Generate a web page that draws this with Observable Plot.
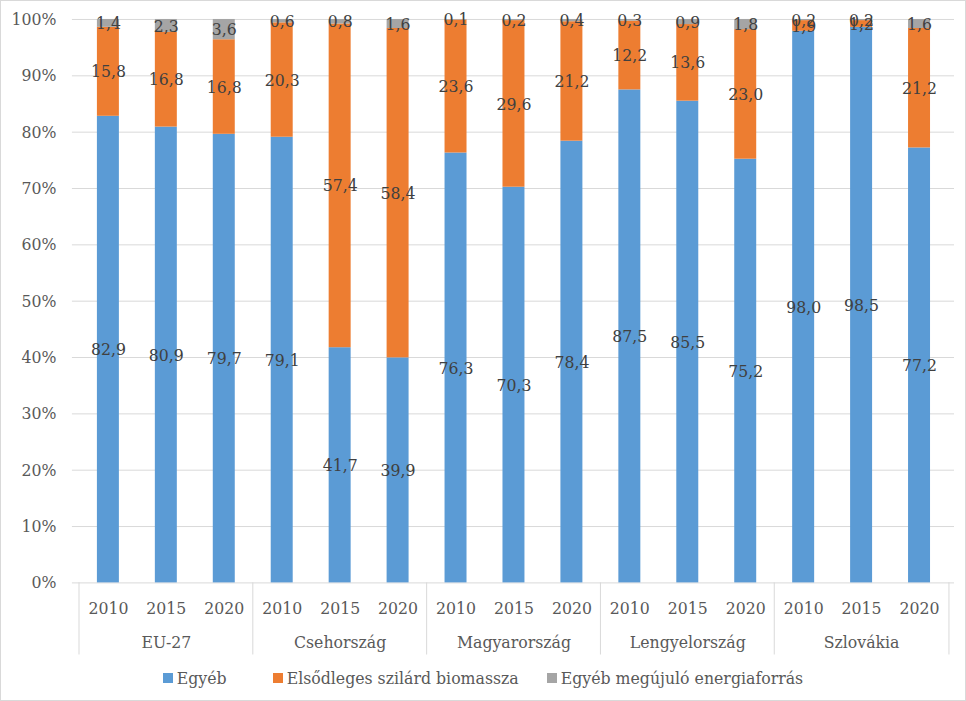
<!DOCTYPE html>
<html>
<head>
<meta charset="utf-8">
<script src="https://cdn.jsdelivr.net/npm/d3@7"></script>
<script src="https://cdn.jsdelivr.net/npm/@observablehq/plot@0.6"></script>
<style>
  html, body { margin: 0; padding: 0; background: #fff; }
  #wrap { position: relative; width: 966px; height: 701px; box-sizing: border-box; border: 1px solid #d9d9d9; overflow: hidden; font-family: 'DejaVu Serif Condensed', 'DejaVu Serif', serif; font-stretch: condensed; }
  #chart { position: absolute; left: -1px; top: -1px; }
  #chart svg, #chart svg text { font-family: 'DejaVu Serif Condensed', 'DejaVu Serif', serif; font-stretch: condensed; }
  #legend { position: absolute; left: 0; right: 0; top: 664px; height: 26px; display: flex; justify-content: center; align-items: center; font-size: 17.5px; color: #595959; }
  .item { display: flex; align-items: center; }
  .sw { width: 10px; height: 10px; margin-right: 4px; }
</style>
</head>
<body>
<div id="wrap">
  <div id="chart"></div>
  <div id="legend"></div>
</div>
<script>
const countries = ["EU-27", "Csehország", "Magyarország", "Lengyelország", "Szlovákia"];
const years = ["2010", "2015", "2020"];
const seriesNames = ["Egyéb", "Elsődleges szilárd biomassza", "Egyéb megújuló energiaforrás"];
const seriesColors = ["#5B9BD5", "#ED7D31", "#A5A5A5"];
const egyeb     = [82.9, 80.9, 79.7, 79.1, 41.7, 39.9, 76.3, 70.3, 78.4, 87.5, 85.5, 75.2, 98.0, 98.5, 77.2];
const biomassza = [15.8, 16.8, 16.8, 20.3, 57.4, 58.4, 23.6, 29.6, 21.2, 12.2, 13.6, 23.0, 1.9, 1.2, 21.2];
const megujulo  = [1.4, 2.3, 3.6, 0.6, 0.8, 1.6, 0.1, 0.2, 0.4, 0.3, 0.9, 1.8, 0.2, 0.2, 1.6];
const yTicks = [0, 0.1, 0.2, 0.3, 0.4, 0.5, 0.6, 0.7, 0.8, 0.9, 1.0];

const keys = [];
countries.forEach(c => years.forEach(y => keys.push(c + "|" + y)));
const seriesValues = [egyeb, biomassza, megujulo];
const rows = [];
seriesNames.forEach((s, si) => keys.forEach((k, i) => rows.push({key: k, series: s, value: seriesValues[si][i]})));
const fmt = v => v.toFixed(1).replace(".", ",");

const W = 966, H = 665, mL = 72, mR = 11, mT = 19, mB = 82;
const bw = (W - mL - mR) / keys.length;
const FS = 17.5;

const chart = Plot.plot({
  width: W, height: H,
  marginLeft: mL, marginRight: mR, marginTop: mT, marginBottom: mB,
  style: {fontFamily: "'DejaVu Serif Condensed', 'DejaVu Serif', serif", fontSize: FS + "px", background: "transparent", overflow: "visible"},
  x: {domain: keys, padding: 0, axis: null},
  y: {domain: [0, 1], axis: null},
  color: {domain: seriesNames, range: seriesColors},
  marks: [
    Plot.ruleY(yTicks, {stroke: "#d9d9d9", strokeWidth: 1}),
    Plot.ruleX(countries.map(c => c + "|2010"), {x: d => d, y1: 0, y2: -0.128, dx: -bw / 2, stroke: "#d9d9d9"}),
    Plot.ruleX([keys[keys.length - 1]], {x: d => d, y1: 0, y2: -0.128, dx: bw / 2, stroke: "#d9d9d9"}),
    Plot.barY(rows, Plot.stackY({offset: "normalize", x: "key", y: "value", z: "series", fill: "series", insetLeft: 18, insetRight: 18})),
    Plot.text(rows, Plot.stackY({offset: "normalize", x: "key", y: "value", z: "series",
      text: d => fmt(d.value), fill: "#404040", fontSize: FS})),
    Plot.axisY(yTicks, {tickFormat: d3.format(".0%"), tickSize: 0, tickPadding: 16, label: null, fill: "#595959", fontSize: FS}),
    Plot.axisX({tickFormat: k => k.split("|")[1], tickSize: 0, tickPadding: 19, label: null, fill: "#595959", fontSize: FS}),
    Plot.text(countries, {x: c => c + "|2015", frameAnchor: "bottom", dy: 65, text: d => d, fill: "#595959", fontSize: FS})
  ]
});
document.getElementById("chart").appendChild(chart);

const legend = document.getElementById("legend");
const gaps = [46, 28, 0];
seriesNames.forEach((s, i) => {
  const it = document.createElement("div");
  it.className = "item";
  it.style.marginRight = gaps[i] + "px";
  const sw = document.createElement("div");
  sw.className = "sw";
  sw.style.background = seriesColors[i];
  const tx = document.createElement("span");
  tx.textContent = s;
  it.appendChild(sw); it.appendChild(tx);
  legend.appendChild(it);
});
</script>
</body>
</html>
